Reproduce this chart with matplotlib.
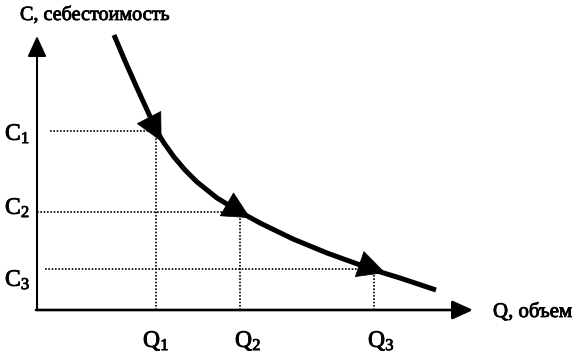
import numpy as np
import matplotlib
matplotlib.use("Agg")
import matplotlib.pyplot as plt
import matplotlib.patheffects as pe

plt.rcParams['font.family'] = ['Liberation Serif', 'DejaVu Serif']
plt.rcParams['mathtext.fontset'] = 'custom'
plt.rcParams['mathtext.rm'] = 'Liberation Serif'
plt.rcParams['mathtext.it'] = 'Liberation Serif:italic'

# ---- data (units: volume Q and cost C) ----
curve_q = [77, 88, 100, 111, 119, 127, 137, 148, 160, 180, 203, 223, 256, 290, 337, 363, 399]
curve_c = [275, 249, 222, 198, 180, 167, 153, 140, 128, 112, 98, 87, 71, 57, 40, 32, 20]
q_points = [119, 203, 337]
c_points = [179, 98, 41]
q_labels = ["Q$_1$", "Q$_2$", "Q$_3$"]
c_labels = ["C$_1$", "C$_2$", "C$_3$"]
y_axis_title = "C, себестоимость"
x_axis_title = "Q, объем"

fig = plt.figure(figsize=(5.78, 3.52), dpi=100)
ax = fig.add_axes([0, 0, 1, 1])
ax.set_xlim(-37, 541)
ax.set_ylim(-42, 310)
ax.axis('off')

# axes with arrows
ax.annotate('', xy=(0, 274), xytext=(0, 0),
            arrowprops=dict(arrowstyle='-|>,head_length=0.7,head_width=0.32',
                            mutation_scale=18, lw=1.5, color='black',
                            shrinkA=0, shrinkB=0))
ax.annotate('', xy=(436, 0), xytext=(-1, 0),
            arrowprops=dict(arrowstyle='-|>,head_length=0.7,head_width=0.32',
                            mutation_scale=18, lw=1.9, color='black',
                            shrinkA=0, shrinkB=0))

dot = (0, (1, 1))
# guide lines
ax.plot([13, q_points[0]], [c_points[0]] * 2, color='black', lw=1.2, ls=dot)
ax.plot([0, q_points[1]], [c_points[1]] * 2, color='black', lw=1.2, ls=dot)
ax.plot([8, q_points[2]], [c_points[2]] * 2, color='black', lw=1.2, ls=dot)
for q, c in zip(q_points, c_points):
    ax.plot([q, q], [0, c], color='black', lw=1.2, ls=dot)

# the cost curve
ax.plot(curve_q, curve_c, color='black', lw=3.6, solid_capstyle='butt',
        solid_joinstyle='round')

# arrowheads on the curve
cq = np.array(curve_q, float)
cc = np.array(curve_c, float)
for q, c in zip(q_points, c_points):
    i = int(np.argmin(np.abs(cq - q)))
    d = np.array([cq[i + 1] - cq[i - 1], cc[i + 1] - cc[i - 1]])
    d /= np.hypot(*d)
    tail = np.array([q, c]) - 14 * d
    tip = np.array([q, c]) + 12 * d
    ax.annotate('', xy=tip, xytext=tail,
                arrowprops=dict(arrowstyle='-|>,head_length=1.0,head_width=0.5',
                                mutation_scale=19, lw=0.5, color='black',
                                shrinkA=0, shrinkB=0))

# labels
fx = [pe.withStroke(linewidth=0.6, foreground='black')]
ax.text(-17, 290, y_axis_title, fontsize=14.5, ha='left', va='baseline', path_effects=fx)
ax.text(456, -7, x_axis_title, fontsize=15, ha='left', va='baseline', path_effects=fx)
c_label_y = [170, 96, 24]
for lab, y in zip(c_labels, c_label_y):
    ax.text(-32, y, lab, fontsize=17, ha='left', va='baseline', path_effects=fx)
q_label_x = [106, 198, 331]
for lab, x in zip(q_labels, q_label_x):
    ax.text(x, -37, lab, fontsize=17, ha='left', va='baseline', path_effects=fx)

fig.savefig('out.png', dpi=100)
